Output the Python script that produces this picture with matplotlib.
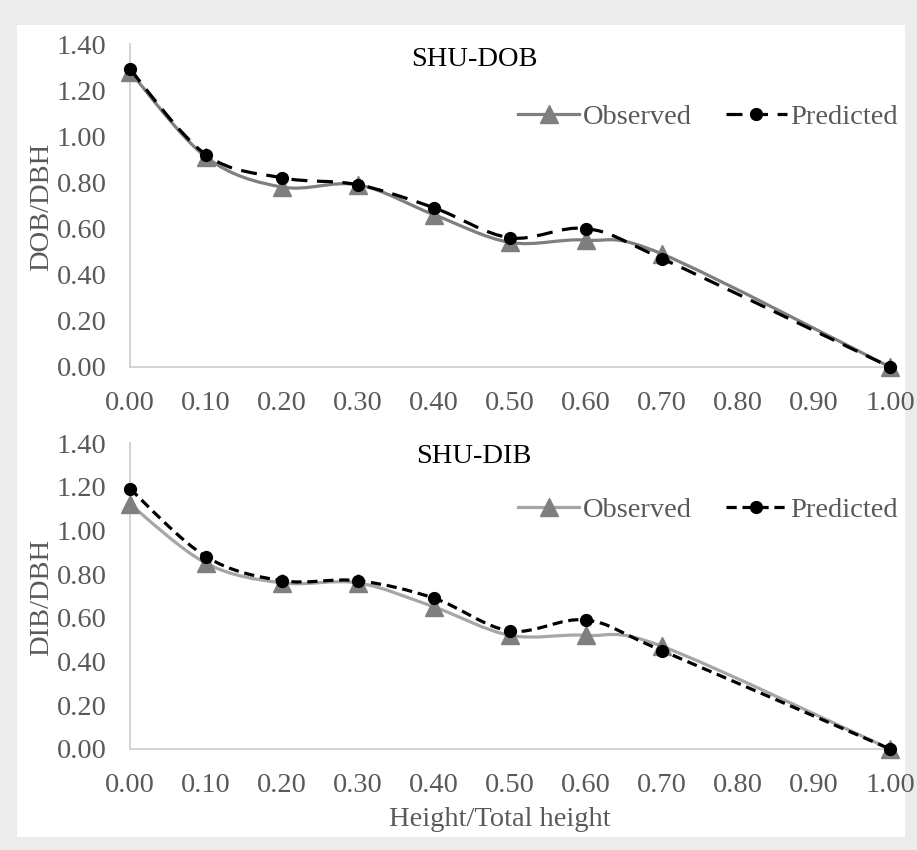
import numpy as np
import matplotlib
matplotlib.use("Agg")
import matplotlib.pyplot as plt
from matplotlib.path import Path
from matplotlib.patches import PathPatch, Rectangle
from matplotlib.lines import Line2D

# ---------------------------------------------------------
# data
# ---------------------------------------------------------
height = [0.0, 0.1, 0.2, 0.3, 0.4, 0.5, 0.6, 0.7, 1.0]
dob_obs = [1.28, 0.91, 0.78, 0.79, 0.66, 0.54, 0.55, 0.49, 0.0]
dob_pred = [1.29, 0.92, 0.82, 0.79, 0.69, 0.56, 0.60, 0.47, 0.0]
dib_obs = [1.12, 0.85, 0.76, 0.76, 0.65, 0.52, 0.52, 0.47, 0.0]
dib_pred = [1.19, 0.88, 0.77, 0.77, 0.69, 0.54, 0.59, 0.45, 0.0]
xticks = [0.0, 0.1, 0.2, 0.3, 0.4, 0.5, 0.6, 0.7, 0.8, 0.9, 1.0]
yticks = [0.0, 0.2, 0.4, 0.6, 0.8, 1.0, 1.2, 1.4]

plt.rcParams["font.family"] = ["Liberation Serif", "DejaVu Serif"]
TXT = "#595959"
FS = 20.5


def smooth_path(x, y):
    # Excel-like smoothed line: Catmull-Rom segments as cubic Bezier curves
    p = np.column_stack([x, y]).astype(float)
    ext = np.vstack([p[0], p, p[-1]])
    verts = [p[0]]
    codes = [Path.MOVETO]
    for i in range(len(p) - 1):
        p0, p1, p2, p3 = ext[i], ext[i + 1], ext[i + 2], ext[i + 3]
        verts += [p1 + (p2 - p0) / 6, p2 - (p3 - p1) / 6, p2]
        codes += [Path.CURVE4] * 3
    return Path(verts, codes)


def panel(ax, obs, pred, obs_col, dash, legend_y):
    ax.add_patch(PathPatch(smooth_path(height, obs), fill=False, ec=obs_col,
                           lw=2.3, zorder=2, capstyle="round"))
    ax.plot(height, obs, ls="none", marker="^", ms=13, color="#7f7f7f",
            clip_on=False, zorder=3)
    ax.add_patch(PathPatch(smooth_path(height, pred), fill=False, ec="black",
                           lw=2.3, ls=(0, dash), zorder=4))
    ax.plot(height, pred, ls="none", marker="o", ms=8.5, color="black",
            clip_on=False, zorder=5)

    ax.set_xlim(0, 1)
    ax.set_ylim(0, 1.4)
    ax.set_xticks(xticks)
    ax.set_yticks(yticks)
    ax.set_xticklabels([f"{v:.2f}" for v in xticks])
    ax.set_yticklabels([f"{v:.2f}" for v in yticks])
    ax.tick_params(length=0, labelsize=FS, colors=TXT)
    ax.tick_params(axis="x", pad=17)
    ax.tick_params(axis="y", pad=17)
    for s in ["top", "right"]:
        ax.spines[s].set_visible(False)
    for s in ["left", "bottom"]:
        ax.spines[s].set_color("#d0d0d0")
        ax.spines[s].set_linewidth(1.3)
    ax.set_facecolor("none")

    h_obs = Line2D([], [], color=obs_col, lw=2.3, marker="^", ms=13,
                   mfc="#7f7f7f", mec="#7f7f7f")
    h_pred = Line2D([], [], color="black", lw=2.3, ls=(0, dash), marker="o",
                    ms=8.5)
    leg = fig.legend([h_obs, h_pred], ["Observed", "Predicted"], ncol=2,
                     loc="center left", bbox_to_anchor=(518 / 917, legend_y),
                     frameon=False, fontsize=FS, handlelength=2.15,
                     handletextpad=0.12, columnspacing=1.2, borderpad=0,
                     borderaxespad=0)
    for t in leg.get_texts():
        t.set_color(TXT)


fig = plt.figure(figsize=(9.17, 8.5), dpi=100, facecolor="#ececec")
fig.patches.append(Rectangle((17 / 917, 1 - 837 / 850), 888 / 917, 812 / 850,
                             transform=fig.transFigure, fc="white", ec="none",
                             zorder=-5))

ax1 = fig.add_axes([130 / 917, 1 - 367 / 850, 760 / 917, 323 / 850])
ax2 = fig.add_axes([130 / 917, 1 - 749 / 850, 760 / 917, 306 / 850])

panel(ax1, dob_obs, dob_pred, "#7f7f7f", (5, 3), 1 - 117 / 850)
panel(ax2, dib_obs, dib_pred, "#a6a6a6", (3.2, 1.8), 1 - 510 / 850)

fig.text(474 / 917, 1 - 60 / 850, "SHU-DOB", ha="center", va="center",
         fontsize=FS, color="black")
fig.text(474 / 917, 1 - 457 / 850, "SHU-DIB", ha="center", va="center",
         fontsize=FS, color="black")
fig.text(42 / 917, 1 - 207 / 850, "DOB/DBH", rotation=90, ha="center",
         va="center", fontsize=FS, color=TXT)
fig.text(42 / 917, 1 - 597 / 850, "DIB/DBH", rotation=90, ha="center",
         va="center", fontsize=FS, color=TXT)
fig.text(500 / 917, 1 - 819 / 850, "Height/Total height", ha="center",
         va="center", fontsize=FS, color=TXT)

fig.savefig("out.png", dpi=100, facecolor=fig.get_facecolor())
